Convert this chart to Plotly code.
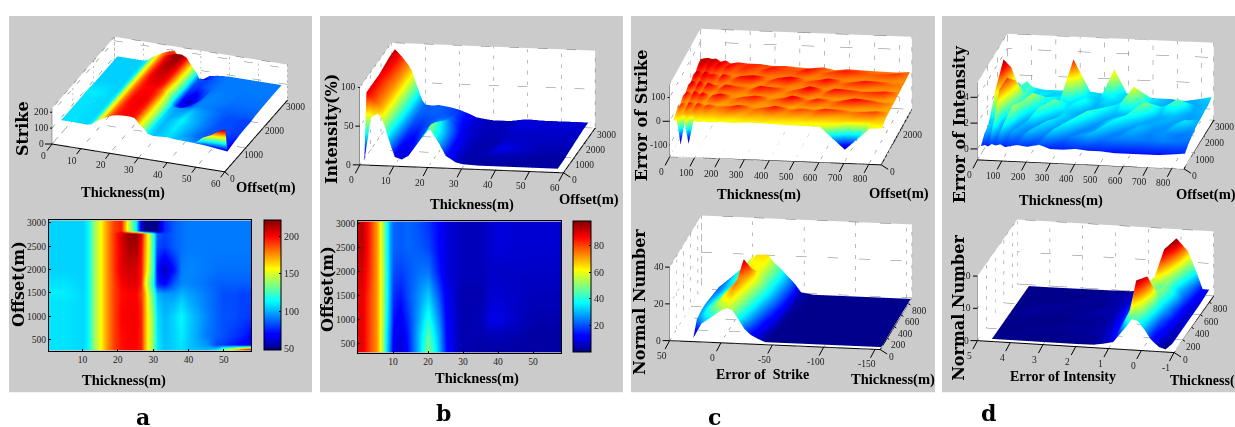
import math
import plotly.graph_objects as go

JET = [[0,'#00007f'],[0.11,'#0000ff'],[0.125,'#0000ff'],[0.375,'#00ffff'],[0.625,'#ffff00'],[0.875,'#ff0000'],[1,'#7f0000']]

a_x = [1,5,10,11.5,13,15,17,19,21,23,25,26.5,27.5,28.5,30,31,33,36,38,40,45,48,50,53,55,58]
a_y = [300,400,600,1000,1300,1500,1700,2000,2500,2780,2830,3000]
a_z = [
 [108,108,106,112,135,155,175,190,197,200,200,195,175,155,135,110,102,105,108,103,100,108,140,165,190,217],
 [108,108,106,112,135,155,175,190,198,200,200,195,175,155,135,110,102,105,108,103,95,80,78,72,68,62],
 [108,108,106,112,135,155,175,190,198,201,201,195,175,155,135,109,101,105,110,104,90,85,82,78,75,68],
 [108,108,106,112,135,155,175,190,200,202,202,195,175,155,135,108,100,106,112,105,92,85,83,82,80,78],
 [108,108,106,112,135,155,175,190,199,201,201,193,175,152,130,104,98,100,106,100,90,85,82,82,80,80],
 [110,110,106,112,135,155,175,190,198,200,200,190,175,150,125,100,95,95,100,97,90,85,82,82,80,80],
 [108,108,105,112,135,155,175,190,200,205,205,195,165,140,115,75,68,85,92,92,88,85,85,85,85,85],
 [105,105,105,112,135,155,175,192,205,208,207,197,175,150,120,70,55,72,90,92,90,88,88,88,88,88],
 [105,105,105,112,135,155,175,192,205,215,215,200,178,155,120,82,78,85,88,90,90,90,90,90,90,90],
 [105,105,105,112,135,155,175,192,208,218,218,205,180,155,120,85,80,85,88,90,90,90,90,90,90,90],
 [105,105,105,112,135,155,175,190,195,150,110,60,50,48,48,50,75,85,88,90,90,90,90,90,90,90],
 [105,105,105,112,135,155,175,190,195,150,110,60,50,48,48,50,75,85,88,90,90,90,90,90,90,90],
]

b_x = [1,3,5,6,7,8,9,10,12,14,17,20,23,25,28,30,35,38,40,45,50,58]
b_y = [100,300,700,1000,1500,2000,2500,3000]
b_z = [
 [3,60,65,60,50,35,22,10,7,12,30,50,30,14,6,4,3,3,3,3,3,3],
 [88,80,72,65,50,35,22,10,7,12,30,50,30,14,6,4,3,3,3,3,3,3],
 [88,80,72,65,50,36,24,12,8,14,30,45,28,13,6,4,4,5,5,4,3,3],
 [88,80,72,65,52,38,26,14,10,16,28,40,25,12,6,4,5,9,9,6,4,4],
 [88,80,72,65,52,40,27,17,14,19,26,32,20,10,6,4,4,7,7,6,5,5],
 [90,82,72,65,53,40,28,20,18,20,23,24,14,8,6,5,5,6,6,6,6,6],
 [92,83,72,65,52,40,28,22,21,22,21,19,12,8,6,5,5,7,8,7,7,7],
 [92,83,72,65,52,40,28,22,21,22,20,17,12,8,6,5,5,7,8,7,7,7],
]

c_x = [10,25,40,55,72,90,110,130,160,200,250,300,350,400,450,500,550,600,700,800,850]
c_y = [100,300,550,800,1050,1300,1550,1800,2050,2300,2550,2800]
c_z = [
 [-4,-3,-105,-4,-100,-2,-7,-4,-6,-3,-5,-2,-1,-3,-5,-6,-7,-8,-100,-8,-4],
 [5,12,8,14,10,12,8,10,8,12,8,12,9,11,10,8,9,6,6,6,5],
 [16,34,14,40,18,38,22,32,20,24,36,18,26,38,20,28,22,34,20,30,12],
 [12,18,12,20,14,16,12,14,12,14,12,14,13,14,12,14,12,14,12,12,10],
 [26,44,18,48,30,44,16,34,42,18,30,38,18,28,44,22,36,20,42,24,14],
 [18,24,16,26,16,18,14,16,14,15,14,16,14,16,14,15,14,14,14,13,12],
 [32,50,24,50,22,46,36,20,40,30,20,40,34,18,30,46,20,40,28,36,16],
 [22,30,20,30,18,22,16,18,16,18,16,18,16,18,16,16,16,16,15,15,14],
 [36,52,30,50,38,40,24,44,22,38,44,20,36,44,22,30,42,22,38,22,18],
 [30,36,26,34,24,26,18,22,18,20,18,20,18,20,18,18,18,18,16,16,16],
 [42,52,36,50,34,48,30,42,26,34,24,38,28,26,40,22,30,36,24,30,20],
 [44,48,50,46,48,36,42,30,36,32,32,26,28,24,22,28,18,24,20,18,22],
]

d_x = [10,25,40,55,70,90,110,130,160,200,250,295,350,400,450,500,560,620,680,740,800,850]
d_y = [100,450,850,1250,1650,2050,2450,2800]
d_z = [
 [.1,.2,.1,.3,.2,.3,.1,.2,.3,.2,.4,.1,.1,.2,.1,.1,0,0,0,0,.1,.2],
 [.6,1.2,.6,2.2,.7,1.5,.7,.9,.6,1.1,.6,1.2,.6,.8,1.0,.6,.7,.7,.6,.7,.6,.5],
 [.8,1.2,.9,3.6,.8,1,2.4,.8,1,.7,1.3,.8,1.5,.7,.8,1.3,.7,1.0,.7,.8,.6,.7],
 [.9,3.2,1,1.1,4.0,1,.9,2.2,.9,1.8,.8,1.2,.8,1.7,.8,1.1,1.5,.9,.9,.8,1.3,.9],
 [1,1.1,4.9,1.1,1,3.3,1.2,1,2.4,.9,2,1.2,.9,1,1.5,.9,1,2.1,.9,1.0,.8,.9],
 [1.1,1.3,1.2,3.8,1.3,1.5,1.8,1.3,1.1,1.6,1.1,1.2,1.5,.9,1,1.3,2.7,1,1.2,1.9,.9,1],
 [1.2,1.4,1.6,1.3,1.8,1.4,1.9,1.2,1.3,1.1,1.2,4.1,1.3,1,1.4,1.1,1.1,1.3,.9,.9,.9,1],
 [1.2,1.4,1.5,1.7,1.4,1.8,1.4,1.3,1.2,1.2,1.2,1.3,1.2,1.1,3.0,1.2,1,.9,.9,.8,1,1.2],
]

e_x = [28,20,10,0,-5,-10,-16,-22,-28,-35,-42,-48,-60,-80,-110,-155]
e_y = [30,130,250,370,500,630,760,870]
e_z = [
 [1,9,13,17,18,17,12,7,4,2,.4,.4,.4,.4,.4,.4],
 [8,12,16,20,21,18,14,10,6,3,1,.4,.4,.4,.4,.4],
 [9,12,16,22,24,20,16,12,8,4,2,.5,.4,.4,.4,.4],
 [9,11,14,18,24,22,18,14,10,6,3,.6,.4,.4,.4,.4],
 [8,10,13,17,30,26,20,16,12,8,4,.8,.4,.4,.4,.4],
 [7,9,12,17,21,20,19,16,13,9,5,1.2,.4,.4,.4,.4],
 [6,9,13,18,20,20,20,17,14,10,6,1.5,.4,.4,.4,.4],
 [4,8,13,19,21,21,21,17,14,10,6,1.5,.4,.4,.4,.4],
]

f_x = [4.6,4,3,2,1.5,1.2,.9,.7,.5,.33,.15,-.05,-.25,-.5,-.7,-.9]
f_y = [30,130,250,370,500,630,760,870]
f_z = [
 [.2,.2,.2,.2,.3,.8,1.5,4,6.5,9,8.5,6,3,.8,.2,2],
 [.2,.3,.2,.4,.5,1.3,2.5,6,10,19,12,7,3,1.5,.5,2],
 [.2,.2,.4,.5,.8,1.5,3,7,11,14,18,9,4,2,.8,2],
 [.2,.3,.2,.4,.6,1.8,3.5,8,12,13,11,9,6,2.5,1,2],
 [.2,.6,.3,.7,.8,2,4,9,11,11,9,10,8,3,1.2,2],
 [.2,.2,.4,.4,.9,1.8,4,7,9,11,19,11,7,4,1.5,2],
 [.2,.3,.2,.5,1,1.5,3,6,8,10,12,20,10,5,2,2.2],
 [.2,.2,.3,.4,.5,1,2,4,7,9,10,9,14,8,2.5,2.5],
]

W, H = 1235, 427
TICK = dict(family='Liberation Sans Narrow', size=9.5, color='#222')
fig = go.Figure()
scene_layouts = {}
count = [0]
OFF = dict(showgrid=False, showticklabels=False, ticks='', showline=False, zeroline=False, showspikes=False,
           showbackground=True, backgroundcolor='white', title=dict(text=''))

def polyline(pairs):
    xs, ys, zs = [], [], []
    for p, q in pairs:
        xs += [p[0], q[0], None]
        ys += [p[1], q[1], None]
        zs += [p[2], q[2], None]
    return xs, ys, zs

def surf3d(x, y, z, cmin, cmax, origin, vx, vy, vz, xax, yax, zax, xshift=(-8,15), yshift=(11,7), zshift=(-11,0)):
    count[0] += 1
    name = 'scene' if count[0] == 1 else f'scene{count[0]}'
    nr, nc = len(y), len(x)
    vx_, vy_, vz_, i, j, k = [], [], [], [], [], []
    for r_ in range(nr):
        for c_ in range(nc):
            vx_.append(x[c_]); vy_.append(y[r_]); vz_.append(z[r_][c_])
    for r_ in range(nr - 1):
        for c_ in range(nc - 1):
            a = r_ * nc + c_
            i += [a, a]; j += [a + 1, a + nc + 1]; k += [a + nc + 1, a + nc]
    fig.add_trace(go.Mesh3d(x=vx_, y=vy_, z=vz_, i=i, j=j, k=k, intensity=vz_, cmin=cmin, cmax=cmax, colorscale=JET,
                            showscale=False, scene=name, hoverinfo='skip', flatshading=False,
                            lighting=dict(ambient=1, diffuse=0, specular=0, fresnel=0, roughness=1)))
    xr, xv, xt = xax; yr, yv, yt = yax; zr, zv, zt = zax
    gx = sorted(set(xv + xr)); gy = sorted(set(yv + yr)); gz = sorted(set(zv + zr))
    pairs = []
    for v in gx:
        pairs += [((v, yr[0], zr[0]), (v, yr[1], zr[0])), ((v, yr[1], zr[0]), (v, yr[1], zr[1]))]
    for v in gy:
        pairs += [((xr[0], v, zr[0]), (xr[1], v, zr[0])), ((xr[0], v, zr[0]), (xr[0], v, zr[1]))]
    for v in gz:
        pairs += [((xr[0], yr[0], v), (xr[0], yr[1], v)), ((xr[0], yr[1], v), (xr[1], yr[1], v))]
    gxs, gys, gzs = polyline(pairs)
    fig.add_trace(go.Scatter3d(x=gxs, y=gys, z=gzs, mode='lines', scene=name, showlegend=False, hoverinfo='skip',
                               line=dict(color='#777777', width=1, dash='dot')))
    bxs, bys, bzs = polyline([((xr[0], yr[0], zr[0]), (xr[1], yr[0], zr[0])),
                              ((xr[1], yr[0], zr[0]), (xr[1], yr[1], zr[0]))])
    fig.add_trace(go.Scatter3d(x=bxs, y=bys, z=bzs, mode='lines', scene=name, showlegend=False, hoverinfo='skip',
                               line=dict(color='black', width=2)))
    zxs, zys, zzs = polyline([((xr[0], yr[0], zr[0]), (xr[0], yr[0], zr[1]))])
    fig.add_trace(go.Scatter3d(x=zxs, y=zys, z=zzs, mode='lines', scene=name, showlegend=False, hoverinfo='skip',
                               line=dict(color='#555555', width=1)))
    def tick(px, py, pz, t, s):
        return dict(x=px, y=py, z=pz, text=t, showarrow=True, arrowhead=0, arrowwidth=1, arrowcolor='black',
                    ax=s[0], ay=s[1], font=TICK)
    ann3 = [tick(v, yr[0], zr[0], t, xshift) for v, t in zip(xv, xt)]
    ann3 += [tick(xr[1], v, zr[0], t, yshift) for v, t in zip(yv, yt)]
    ann3 += [tick(xr[0], yr[0], v, t, zshift) for v, t in zip(zv, zt)]
    ta = vx[1] / vx[0]
    tb = vy[0] / -vy[1]
    al = math.atan(math.sqrt(ta * tb))
    se = math.sqrt(ta / tb)
    el = math.asin(se)
    ce = math.cos(el)
    Lx = vx[0] / math.cos(al)
    Ly = vy[0] / math.sin(al)
    Lz = vz / ce
    cx = origin[0] + (vx[0] + vy[0]) / 2
    cy = origin[1] + (vx[1] + vy[1] - vz) / 2
    r = 2.0
    pxu = H / 2
    right = (math.cos(al), math.sin(al), 0)
    up = (-math.sin(al) * se, math.cos(al) * se, ce)
    view = (math.sin(al) * ce, -math.cos(al) * ce, se)
    sr = -(cx - W / 2) / pxu
    su = (cy - H / 2) / pxu
    ctr = [sr * right[n] + su * up[n] for n in range(3)]
    eye = [ctr[n] + r * view[n] for n in range(3)]
    scene_layouts[name] = dict(
        domain=dict(x=[0, 1], y=[0, 1]),
        aspectmode='manual', aspectratio=dict(x=Lx / pxu, y=Ly / pxu, z=Lz / pxu),
        camera=dict(projection=dict(type='orthographic'), up=dict(x=0, y=0, z=1),
                    center=dict(x=ctr[0], y=ctr[1], z=ctr[2]), eye=dict(x=eye[0], y=eye[1], z=eye[2])),
        xaxis=dict(OFF, range=xr), yaxis=dict(OFF, range=yr), zaxis=dict(OFF, range=zr),
        bgcolor='rgba(0,0,0,0)', annotations=ann3)

def sl(v):
    return [str(t) for t in v]

T60 = [0,10,20,30,40,50,60]
T3K = [0,1000,2000,3000]
T800 = [0,100,200,300,400,500,600,700,800]
T900 = [0,200,400,600,800]
surf3d(a_x, a_y, a_z, 47, 222, (48,142), (174,28), (63,-72), 36,
       ([0,60],T60,sl(T60)), ([0,3000],T3K,sl(T3K)), ([0,225],[0,100,200],['0','100','200']), xshift=(-9,12), yshift=(8,7))
surf3d(b_x, b_y, b_z, 0, 98, (358,163), (205,8), (32,-45), 78,
       ([0,60],T60,sl(T60)), ([0,3000],T3K,sl(T3K)), ([0,100],[0,50,100],['0','50','100']))
surf3d(c_x, c_y, c_z, -105, 60, (670,155), (213,8), (31,-56), 73,
       ([0,850],T800,sl(T800)), ([0,3000],[0,2000],['0','2000']), ([-150,155],[-100,0,100],['-100','0','100']))
surf3d([-v for v in e_x], e_y, e_z, 0, 32, (670,340), (212,9), (32,-52), 74,
       ([-50,155],[-50,0,50,100,150],['50','0','-50','-100','-150']), ([0,900],T900,sl(T900)), ([0,40],[0,20,40],['0','20','40']))
surf3d(d_x, d_y, d_z, -0.8, 5, (980,158), (208,9), (30,-49), 78,
       ([0,850],T800,sl(T800)), ([0,3000],T3K,sl(T3K)), ([-0.85,5.15],[0,2,4],['0','2','4']))
surf3d([-v for v in f_x], f_y, f_z, 0, 20, (980,340), (198,12), (40,-57), 65,
       ([-5,1],[-5,-4,-3,-2,-1,0,1],['5','4','3','2','1','0','-1']), ([0,900],T900,sl(T900)), ([0,20],[0,10,20],['0','10','20']))

def heat(x, y, z, zmin, zmax, box, xr, yr, cbox, cbticks, idx):
    l, r, t, b = box
    xn, yn = ('xaxis', 'yaxis') if idx == 1 else (f'xaxis{idx}', f'yaxis{idx}')
    fig.add_trace(go.Heatmap(x=x, y=y, z=z, zmin=zmin, zmax=zmax, colorscale=JET, zsmooth='best',
                             xaxis=f'x{idx if idx>1 else ""}', yaxis=f'y{idx if idx>1 else ""}',
                             colorbar=dict(x=cbox[0]/W, xanchor='left', y=1-t/H, yanchor='top', len=(b-t)/H, lenmode='fraction',
                                           thickness=cbox[1]-cbox[0], thicknessmode='pixels', xpad=0, ypad=0,
                                           outlinecolor='black', outlinewidth=1, tickvals=cbticks, ticks='inside',
                                           ticklen=2, tickcolor='black', tickfont=dict(TICK, size=10))))
    ax = dict(showgrid=False, zeroline=False, showline=True, linecolor='black', linewidth=1, mirror=True,
              ticks='inside', ticklen=2, tickcolor='black', tickfont=dict(TICK, size=9.5))
    fig.layout[xn] = dict(ax, domain=[l/W, r/W], range=xr, tickvals=[10,20,30,40,50], anchor=f'y{idx if idx>1 else ""}')
    fig.layout[yn] = dict(ax, domain=[1-b/H, 1-t/H], range=yr, tickvals=[500,1000,1500,2000,2500,3000], anchor=f'x{idx if idx>1 else ""}')

heat(a_x, a_y, a_z, 47, 222, (49,251,219,350), [0.5,57.7], [270,3050], (264,281), [50,100,150,200], 1)
heat(b_x, b_y, b_z, 0, 98, (358,561,220,352), [0,58], [314,3040], (573,591), [20,40,60,80], 2)

GRAY = '#cbcbcb'
shapes = [dict(type='rect', xref='paper', yref='paper', x0=x0/W, x1=x1/W, y0=1-392/H, y1=1-13/H, fillcolor=GRAY,
               line=dict(width=0), layer='below') for x0, x1 in [(9,312),(320,623),(631,935),(942,1235)]]

SERIF = 'Liberation Serif'
DJ = 'DejaVu Serif'
ann = []
def label(t, x, y, size=14.5, rot=0, fam=SERIF, anchor='center'):
    ann.append(dict(text=t, xref='paper', yref='paper', x=x/W, y=1-y/H, xanchor=anchor, yanchor='middle', showarrow=False,
                    textangle=rot, font=dict(family=fam, size=size, color='black')))

for t, x, y in [('Thickness(m)',123,191),('Offset(m)',266,186),('Thickness(m)',124,380),
                ('Thickness(m)',472,203),('Offset(m)',589,198),('Thickness(m)',477,378),
                ('Thickness(m)',759,193),('Offset(m)',899,192),('Thickness(m)',893,379),
                ('Thickness(m)',1061,199),('Offset(m)',1206,193)]:
    label(f'<b>{t}</b>', x, y)
label('<b>Thickness(m)</b>', 1168, 381, 14, anchor='left')
label('<b>Error of  Strike</b>', 762, 374, 14)
label('<b>Error of Intensity</b>', 1063, 376, 14)
for t, x, y in [('Strike',22,127),('Offset(m)',18,283),('Intensity(%)',331,127),('Offset(m)',328,288),
                ('Error of Strike',641,113),('Normal Number',640,301),('Error of Intensity',959,122),('Normal Number',959,307)]:
    label(f'<b>{t}</b>', x, y, 16, -90, DJ)
for t, x, y in [('a',143,417),('b',443,413),('c',714,417),('d',988,413)]:
    label(f'<b>{t}</b>', x, y, 22, 0, DJ)

fig.update_layout(width=W, height=H, margin=dict(l=0, r=0, t=0, b=0), paper_bgcolor='white', plot_bgcolor='white',
                  shapes=shapes, annotations=ann, **scene_layouts)
fig.write_html('out.html', config={'displayModeBar': False},
               post_script="document.body.style.margin='0';document.body.style.overflow='hidden';")
